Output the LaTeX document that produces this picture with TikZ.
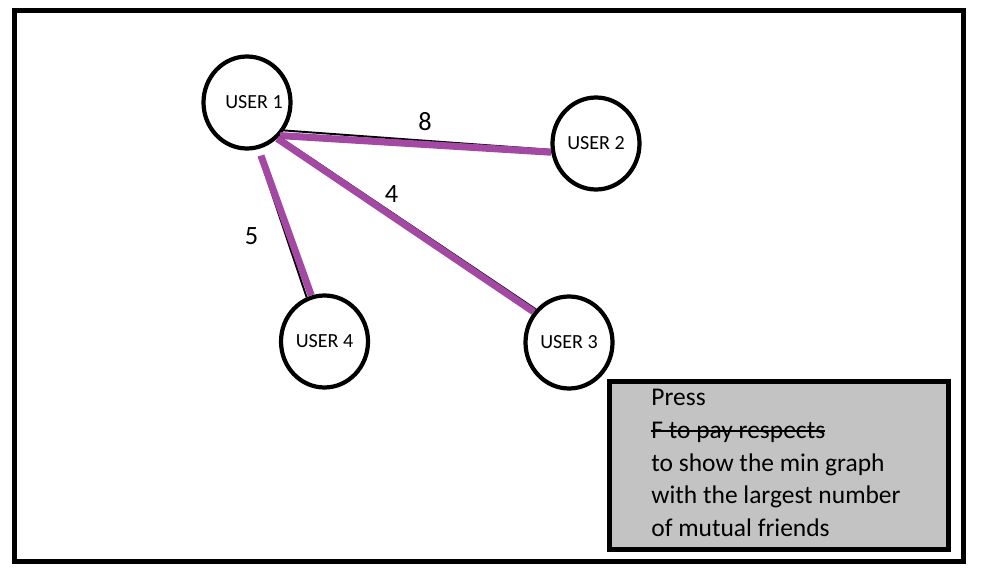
\documentclass[tikz,border=0pt]{standalone}
\usepackage{fontspec}
\setmainfont{Carlito}
\usetikzlibrary{shapes.geometric}
\definecolor{friendpurple}{RGB}{163,73,164}
\definecolor{notegray}{RGB}{195,195,195}
\newsavebox{\crossbox}
\newcommand{\crossout}[1]{\leavevmode\sbox{\crossbox}{#1}\rlap{\rule[3.8pt]{\wd\crossbox}{1.1pt}}\usebox{\crossbox}}
\begin{document}
\begin{tikzpicture}[
        user/.style={draw, ellipse, line width=2.4pt, minimum width=1.74cm, minimum height=1.84cm, inner sep=0pt, font=\fontsize{11.4}{13}\selectfont},
        link/.style={line width=1.1pt},
        picked/.style={line width=4pt, color=friendpurple},
        weight/.style={font=\fontsize{15}{18}\selectfont},
        notebox/.style={draw, fill=notegray, line width=2.8pt, minimum width=6.77cm, minimum height=3.36cm, inner sep=0pt, outer sep=0pt},
        notetext/.style={inner sep=0pt, align=left, font=\fontsize{14.5}{18.6}\selectfont}
    ]
        \useasboundingbox (0,0) rectangle (19.7,-11.76);
        \draw [line width=2.7pt] (0.286,-0.206) rectangle (19.27,-11.23);
        \node [user] (u1) at(4.94,-2.05) {\makebox[0pt]{\hspace*{0.28cm}USER 1}};
        \node [user] (u2) at(11.92,-2.87) {USER 2};
        \node [user] (u3) at(11.38,-6.85) {USER 3};
        \node [user] (u4) at(6.49,-6.83) {USER 4};
        \draw [link] (u1.-37)--(u2.188);
        \draw [picked] (u1.-45)--(u2.191);
        \draw [link] (u1.-47)--(u3.135);
        \draw [picked] (u1.-50)--(u3.139);
        \draw [link, shorten <=0.14cm] (u1.-78)--(u4.112);
        \draw [picked, shorten <=0.14cm] (u1.-76)--(u4.106);
        \node [weight] (w12) at(8.5,-2.43) {8};
        \node [weight] (w13) at(7.83,-3.89) {4};
        \node [weight] (w14) at(5.03,-4.73) {5};
        \node [notebox, anchor=north west] (note) at(12.196,-7.63) {};
        \node [notetext, anchor=north west] (notetext) at(13.02,-7.784) {Press\\\crossout{F to pay respects}\\to show the min graph\\with the largest number\\of mutual friends};
    \end{tikzpicture}
\end{document}
